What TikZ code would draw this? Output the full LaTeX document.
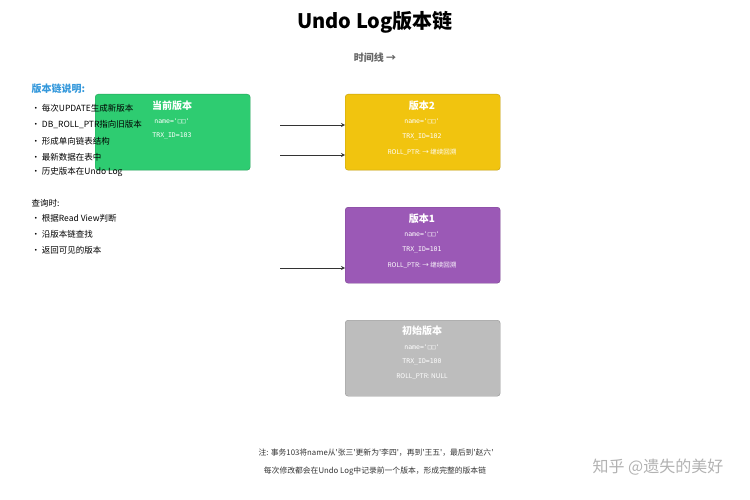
\documentclass[tikz,border=0pt]{standalone}
\usepackage{fontspec}
\setmainfont{Noto Sans CJK SC}
\newfontfamily\monocjk{DejaVu Sans Mono}
\usetikzlibrary{positioning}
\definecolor{vgreen}{HTML}{2ECC71}
\definecolor{vyellow}{HTML}{F1C40F}
\definecolor{vpurple}{HTML}{9B59B6}
\definecolor{vgray}{HTML}{BDBDBD}
\definecolor{vblue}{HTML}{3498DB}
\newcommand{\sq}{\textquotesingle}
\tikzset{
  ver/.style={draw=#1!80!black, fill=#1, rounded corners=3pt, minimum width=155pt, minimum height=76pt, anchor=north west},
  vtitle/.style={text=white, font=\fontsize{10}{11}\selectfont\bfseries},
  vline/.style={text=white, font=\fontsize{6.5}{8}\selectfont},
  vmono/.style={text=white, font=\fontsize{6.5}{8}\selectfont\monocjk},
  item/.style={anchor=west, font=\fontsize{8.5}{10}\selectfont},
  chain/.style={->, >=stealth, draw=black!80, line width=0.8pt}
}
\begin{document}
\begin{tikzpicture}[x=1pt,y=-1pt]
\useasboundingbox (0,0) rectangle (750,500);
\node[font=\fontsize{20}{22}\selectfont\bfseries] (title) at (375,22) {Undo Log版本链};
\node[text=black!60, font=\fontsize{10}{11}\selectfont\bfseries] (time) at (375,58) {时间线 →};
% versions
\node[ver=vgreen] (cur) at (95,94) {};
\node[vtitle] at (172,106) {当前版本};
\node[vmono] at (172,121) {name=\sq□□\sq};
\node[vmono] at (172,136) {TRX\_ID=103};
\node[ver=vyellow] (v2) at (345,94) {};
\node[vtitle] at (422,106) {版本2};
\node[vmono] at (422,121) {name=\sq□□\sq};
\node[vmono] at (422,137) {TRX\_ID=102};
\node[vline] at (422,152) {ROLL\_PTR: → 继续回溯};
\node[ver=vpurple] (v1) at (345,207) {};
\node[vtitle] at (422,219) {版本1};
\node[vmono] at (422,234) {name=\sq□□\sq};
\node[vmono] at (422,250) {TRX\_ID=101};
\node[vline] at (422,265) {ROLL\_PTR: → 继续回溯};
\node[ver=vgray] (v0) at (345,320) {};
\node[vtitle] at (422,331) {初始版本};
\node[vmono] at (422,347) {name=\sq□□\sq};
\node[vmono] at (422,362) {TRX\_ID=100};
\node[vline] at (422,377) {ROLL\_PTR: NULL};
% left notes
\node[item, text=vblue, font=\fontsize{10}{11}\selectfont\bfseries] (head) at (28,89) {版本链说明:};
\node[item] (i1) at (28,108) {• 每次UPDATE生成新版本};
\node[item] (i2) at (28,125) {• DB\_ROLL\_PTR指向旧版本};
\node[item] (i3) at (28,141) {• 形成单向链表结构};
\node[item] (i4) at (28,157) {• 最新数据在表中};
\node[item] (i5) at (28,172) {• 历史版本在Undo Log};
\node[item] (q) at (28,203) {查询时:};
\node[item] (q1) at (28,218) {• 根据Read View判断};
\node[item] (q2) at (28,234) {• 沿版本链查找};
\node[item] (q3) at (28,250) {• 返回可见的版本};
% arrows
\coordinate (a1) at (280,125);
\coordinate (a2) at (280,155);
\coordinate (a3) at (280,268);
\draw[chain] (a1) -- (a1 -| v2.west);
\draw[chain] (a2) -- (a2 -| v2.west);
\draw[chain] (a3) -- (a3 -| v1.west);
% notes
\node[font=\fontsize{7.8}{9}\selectfont, text=black!80] (n1) at (376,453) {注: 事务103将name从\sq 张三\sq 更新为\sq 李四\sq，再到\sq 王五\sq，最后到\sq 赵六\sq};
\node[font=\fontsize{7.8}{9}\selectfont, text=black!80] (n2) at (375,471) {每次修改都会在Undo Log中记录前一个版本，形成完整的版本链};
\node[font=\fontsize{16}{18}\selectfont, text=black!30] (wm) at (658,467) {知乎 @遗失的美好};
\end{tikzpicture}
\end{document}
